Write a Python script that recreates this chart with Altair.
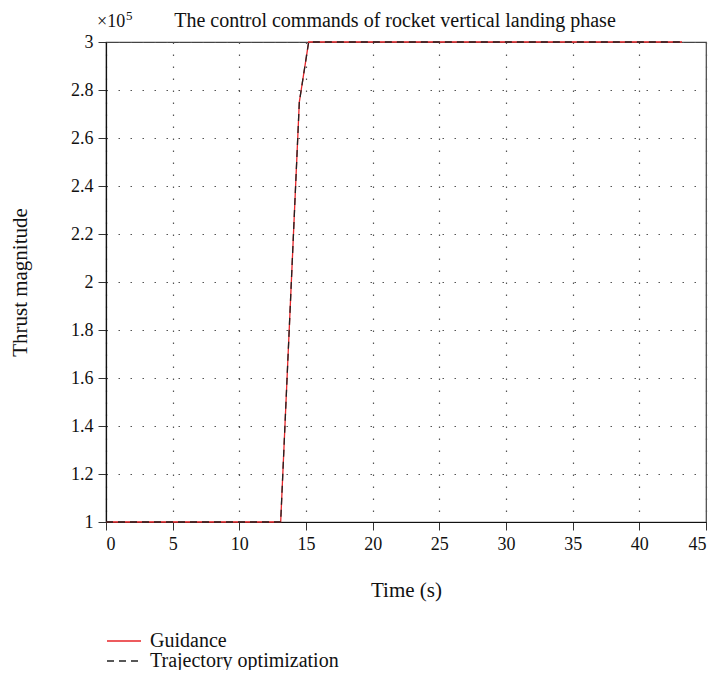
import altair as alt
import pandas as pd

# Data (thrust in units of 1e5)
guid_t = [0, 13.1, 14.5, 15.2, 43.2]
guid_v = [1.0, 1.0, 2.75, 3.0, 3.0]
traj_t = [0, 13.1, 14.5, 15.2, 43.2]
traj_v = [1.0, 1.0, 2.75, 3.0, 3.0]
series = ["Guidance", "Trajectory optimization"]
title_text = ["The control commands of rocket vertical landing phase"]

df = pd.concat([
    pd.DataFrame({"t": guid_t, "v": guid_v, "s": series[0], "o": range(len(guid_t))}),
    pd.DataFrame({"t": traj_t, "v": traj_v, "s": series[1], "o": range(len(traj_t))}),
])

FONT = "Liberation Serif"

x = alt.X("t:Q", title="Time (s)",
          scale=alt.Scale(domain=[0, 45], nice=False),
          axis=alt.Axis(values=list(range(0, 50, 5)), titlePadding=26))
y = alt.Y("v:Q", title="Thrust magnitude",
          scale=alt.Scale(domain=[1, 3], nice=False),
          axis=alt.Axis(values=[1, 1.2, 1.4, 1.6, 1.8, 2, 2.2, 2.4, 2.6, 2.8, 3],
                        format="~g", titlePadding=40))

leg = alt.Legend(title=None, orient="none", legendX=8, legendY=589,
                 symbolType="M-2,0H2", symbolSize=289,
                 symbolStrokeWidth=1.3, labelFontSize=20, labelFont=FONT, labelLimit=400,
                 labelColor="#111", labelOffset=16, rowPadding=-4)

lines = alt.Chart(df).mark_line(strokeWidth=1.3).encode(
    x=x, y=y, order="o:Q",
    color=alt.Color("s:N", scale=alt.Scale(domain=series, range=["#e8262a", "#222222"]),
                    legend=leg),
    strokeDash=alt.StrokeDash("s:N", scale=alt.Scale(domain=series, range=[[1, 0], [7, 5]]),
                              legend=leg),
)

exp_df = pd.DataFrame({"lab": ["×10"], "sup": ["5"], "title": title_text})
x10 = alt.Chart(exp_df).mark_text(font=FONT, fontSize=18, align="left", baseline="alphabetic",
                                  color="#111").encode(
    x=alt.value(-9), y=alt.value(-15), text="lab:N")
sup = alt.Chart(exp_df).mark_text(font=FONT, fontSize=13, align="left", baseline="alphabetic",
                                  color="#111").encode(
    x=alt.value(20), y=alt.value(-22), text="sup:N")
ttl = alt.Chart(exp_df).mark_text(font=FONT, fontSize=20, align="center", baseline="alphabetic",
                                  color="#111").encode(
    x=alt.value(289), y=alt.value(-15), text="title:N")

chart = alt.layer(lines, x10, sup, ttl).properties(
    width=600, height=480,
    autosize=alt.AutoSizeParams(type="none"),
    padding={"left": 98, "top": 34, "right": 3, "bottom": 148},
).configure_view(stroke="#444", strokeWidth=1.2).configure_axis(
    grid=True, gridColor="#555", gridDash=[1.5, 10.5], gridWidth=1.2,
    domainColor="#111", domainWidth=1.2, tickColor="#333", tickSize=8,
    labelFont=FONT, labelFontSize=18, labelColor="#111", labelPadding=5,
    titleFont=FONT, titleFontSize=21, titleFontWeight="normal", titleColor="#111",
)

chart.save("out.html", embed_options={"renderer": "svg", "actions": False})
